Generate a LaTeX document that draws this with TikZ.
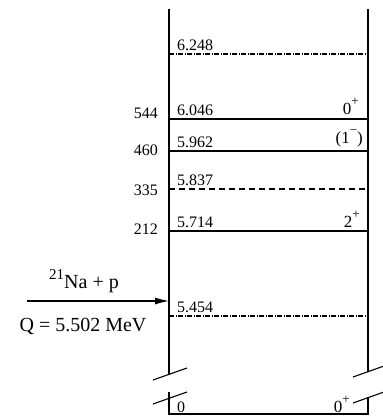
\documentclass[tikz,border=0pt]{standalone}
\usepackage{fontspec}
\setmainfont{Liberation Serif}
\usetikzlibrary{arrows.meta}
\newcommand{\hsup}[2]{\raisebox{#1}{\fontsize{#2}{#2}\selectfont}}
\newcommand{\spinsup}[1]{\raisebox{0.48em}{\fontsize{13}{13}\selectfont #1}}
\begin{document}
\begin{tikzpicture}[x=1pt,y=-1pt,
  frame/.style={line width=1.4pt},
  lvl/.style={line width=1.1pt},
  dashdot/.style={line width=1.1pt,dash pattern=on 5pt off 1.5pt on 1pt off 1.5pt},
  dsh/.style={line width=1.1pt,dash pattern=on 6pt off 4pt},
  brk/.style={line width=1.1pt},
  elab/.style={font=\fontsize{16}{16}\selectfont,inner sep=0pt,anchor=base west},
  wlab/.style={font=\fontsize{16}{16}\selectfont,inner sep=0pt,anchor=base east},
  jlab/.style={font=\fontsize{17}{17}\selectfont,inner sep=0pt,anchor=base east},
  rlab/.style={font=\fontsize{20}{20}\selectfont,inner sep=0pt}]
\path[use as bounding box] (0,0) rectangle (383,418);
% frame coordinates
\coordinate (LT) at (169,9);
\coordinate (LB) at (169,374);
\coordinate (RT) at (368,9);
\coordinate (RB) at (368,372);
\coordinate (LB2) at (169,392);
\coordinate (RB2) at (368,397);
\coordinate (BL) at (169,414);
\coordinate (BR) at (368,414);
\draw[frame] (LT) -- (LB);
\draw[frame] (RT) -- (RB);
\draw[frame] (LB2) -- (BL) -- (BR) -- (RB2);
% break marks
\coordinate (b1a) at (153,380); \coordinate (b1b) at (187,368);
\coordinate (b2a) at (153,404); \coordinate (b2b) at (187,392);
\coordinate (b3a) at (353,377); \coordinate (b3b) at (384,366);
\coordinate (b4a) at (353,403); \coordinate (b4b) at (384,392);
\draw[brk] (b1a) -- (b1b);
\draw[brk] (b2a) -- (b2b);
\draw[brk] (b3a) -- (b3b);
\draw[brk] (b4a) -- (b4b);
% levels
\coordinate (l1a) at (169,54);  \coordinate (l1b) at (368,54);
\coordinate (l2a) at (169,119); \coordinate (l2b) at (368,119);
\coordinate (l3a) at (169,151); \coordinate (l3b) at (368,151);
\coordinate (l4a) at (169,189); \coordinate (l4b) at (368,189);
\coordinate (l5a) at (169,231); \coordinate (l5b) at (368,231);
\coordinate (l6a) at (169,316); \coordinate (l6b) at (368,316);
\draw[dashdot] (l1a) -- (l1b);
\draw[lvl] (l2a) -- (l2b);
\draw[lvl] (l3a) -- (l3b);
\draw[dsh] (l4a) -- (l4b);
\draw[lvl] (l5a) -- (l5b);
\draw[dashdot] (l6a) -- (l6b);
% energies
\node[elab] (e1) at (177,50) {6.248};
\node[elab] (e2) at (177,115) {6.046};
\node[elab] (e3) at (177,147) {5.962};
\node[elab] (e4) at (177,185) {5.837};
\node[elab] (e5) at (177,227) {5.714};
\node[elab] (e6) at (177,312) {5.454};
\node[elab] (e0) at (177,412) {0};
% widths
\node[wlab] (w2) at (158,118) {544};
\node[wlab] (w3) at (158,155) {460};
\node[wlab] (w4) at (158,195) {335};
\node[wlab] (w5) at (158,234) {212};
% spins
\node[jlab] (j2) at (359,114) {0\spinsup{+}};
\node[jlab] (j3) at (363,143) {(1\spinsup{−})};
\node[jlab] (j5) at (360,227) {2\spinsup{+}};
\node[jlab] (j0) at (350,412) {0\spinsup{+}};
% reaction
\coordinate (arrS) at (27,301);
\coordinate (arrE) at (169,301);
\draw[line width=1.1pt,-{Latex[length=14pt,width=7pt]}] (arrS) -- (arrE);
\node[rlab,anchor=base] (na) at (84,288) {\raisebox{9pt}{\fontsize{15}{15}\selectfont 21}Na + p};
\node[rlab,anchor=base] (q) at (83,331) {Q = 5.502 MeV};
\end{tikzpicture}
\end{document}
